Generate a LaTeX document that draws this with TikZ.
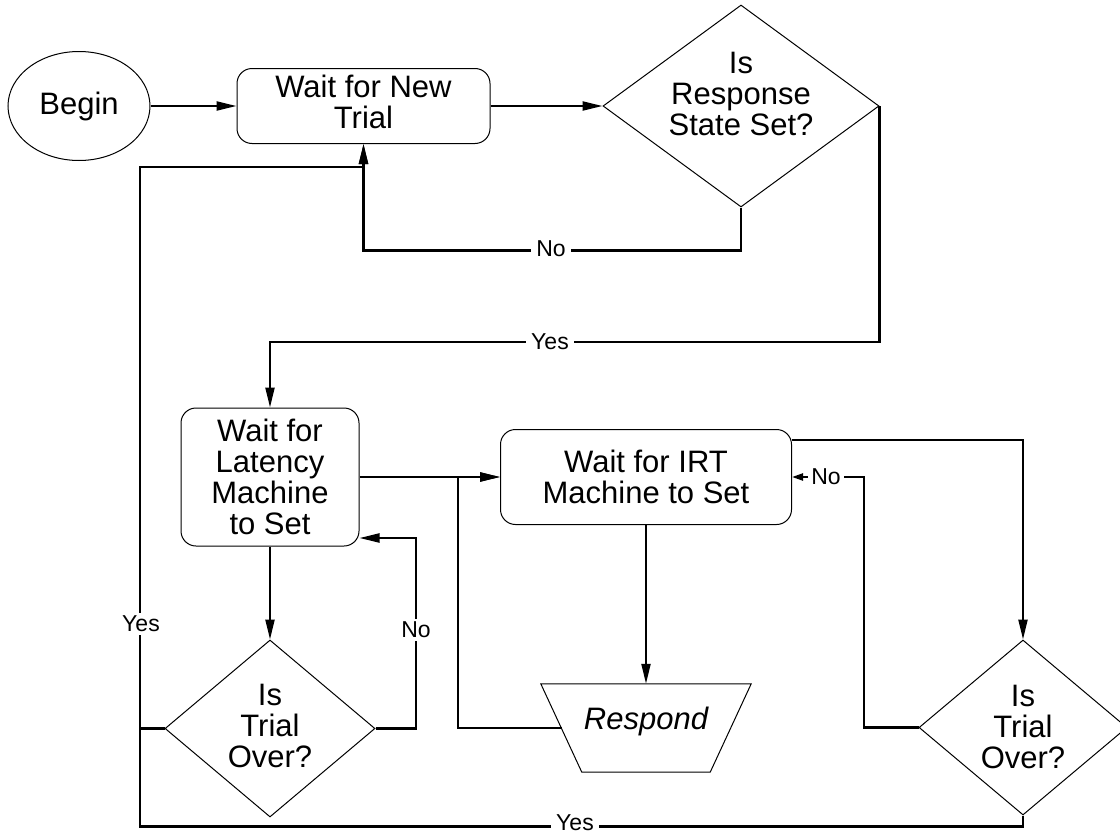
\documentclass[tikz,border=0pt]{standalone}
\usepackage{fontspec}
\setmainfont{Liberation Sans}
\usetikzlibrary{shapes.geometric,arrows.meta,calc}
\begin{document}
\begin{tikzpicture}[x=1pt,y=-1pt,
  every node/.style={font=\fontsize{31}{31}\selectfont, align=center, inner sep=0pt},
  shp/.style={draw, line width=1pt},
  rbox/.style={shp, rectangle, rounded corners=15pt},
  dec/.style={shp, diamond},
  wire/.style={line width=2.2pt},
  conn/.style={wire, -{Triangle[length=20pt,width=9pt]}},
  shortconn/.style={wire, -{Triangle[length=11pt,width=7pt]}},
  lbl/.style={font=\fontsize{23}{23}\selectfont, fill=white, inner xsep=5pt, inner ysep=3pt}]
\useasboundingbox (0,0) rectangle (1120,835);

% nodes
\node[shp, ellipse, minimum width=142, minimum height=109] (begin) at (79,106) {Begin};
\node[rbox, minimum width=253, minimum height=75] (box1) at (363.5,106) {};
\node at (363.5,102) {Wait for New\\Trial};
\node[dec, minimum width=276, minimum height=202] (d1) at (741,106) {};
\node at (741,94) {Is\\Response\\State Set?};

\node[rbox, minimum width=178, minimum height=138] (lat) at (270,477) {Wait for\\Latency\\Machine\\to Set};
\node[rbox, minimum width=291, minimum height=95] (irt) at (646,477) {Wait for IRT\\Machine to Set};

\node[dec, minimum width=210, minimum height=177] (d2) at (270,728.5) {};
\node at (270,726) {Is\\Trial\\Over?};
\node[dec, minimum width=208, minimum height=175] (d3) at (1023,727.5) {};
\node at (1023,727) {Is\\Trial\\Over?};

\node[minimum width=210, minimum height=88] (resp) at (646,728) {};
\draw[shp] (resp.north west) -- (resp.north east) -- ($(resp.south east)+(-41,0)$)
  -- ($(resp.south west)+(41,0)$) -- cycle;
\node at (646,721) {\itshape Respond};
\coordinate (respL) at ($(resp.west)+(21,0)$);

\coordinate (LL) at (140,826);
\coordinate (LT) at (140,167);
\coordinate (n2) at (416,538);
\coordinate (rl) at (458,477);
\coordinate (n3) at (864,477);

% connectors
\draw[conn] (begin) -- (box1);
\draw[conn] (box1.east) -- (d1.west);
\draw[conn] (d1.south) -- ++(0,43) -| (box1.south);
\node[lbl] at (551,249) {No};

\draw[conn] (d1.east) -- ++(0,236) -| (lat.north);
\node[lbl] at (550,342) {Yes};

\draw[conn] (lat.east) -- (lat.east -| irt.west);
\draw[conn] (lat.south) -- (d2.north);
\draw[conn] (d2.east) -| (n2) -- (n2 -| lat.east);
\node[lbl] at (416,630) {No};

\draw[wire] (d2.west) -- (d2.west -| LL);
\draw[conn] (d3.south) -- ++(0,11) -| (LT) -| (box1.south);
\node[lbl, inner ysep=1pt] at (575,823) {Yes};
\node[lbl] at (141,624) {Yes};

\draw[conn] (irt.south) -- (resp.north);
\draw[conn] (respL) -| (rl) -- (irt.west);
\draw[conn] ($(irt.north east)+(0,11)$) -| (d3.north);
\draw[shortconn] (d3.west) -| (n3) -- (irt.east);
\node[lbl, inner xsep=3pt] at (826,477) {No};
\end{tikzpicture}
\end{document}
